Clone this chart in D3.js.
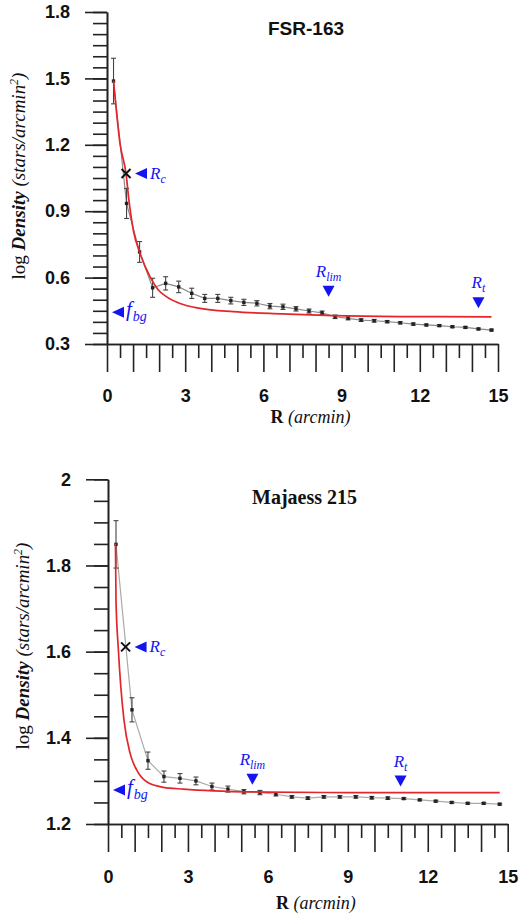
<!DOCTYPE html>
<html lang="en">
<head>
  <meta charset="UTF-8">
  <title>Radial density profiles</title>
  <script src="https://cdn.jsdelivr.net/npm/d3@7"></script>
  <style>
    body { margin: 0; background: #fff; }
  </style>
</head>
<body>

  <svg id="svg" width="520" height="920"></svg>

  <script>
    // ---- FSR-163 ----
    const fsrR = [0.25, 0.75, 1.25, 1.75, 2.25, 2.75, 3.25, 3.75, 4.25, 4.75, 5.25, 5.75, 6.25, 6.75, 7.25,
                  7.75, 8.25, 8.75, 9.25, 9.75, 10.25, 10.75, 11.25, 11.75, 12.25, 12.75, 13.25, 13.75, 14.25, 14.75]
    const fsrLogD = [1.488, 0.935, 0.716, 0.554, 0.574, 0.558, 0.529, 0.506, 0.506, 0.496, 0.488, 0.484, 0.471, 0.468, 0.459,
                     0.449, 0.441, 0.423, 0.416, 0.408, 0.405, 0.401, 0.396, 0.390, 0.386, 0.383, 0.378, 0.375, 0.368, 0.363]
    const fsrErr = [0.103, 0.068, 0.047, 0.043, 0.030, 0.026, 0.023, 0.018, 0.018, 0.015, 0.014, 0.012, 0.012, 0.012, 0.010,
                    0.009, 0.008, 0.008, 0.007, 0.006, 0.006, 0.005, 0.005, 0.005, 0.004, 0.004, 0.004, 0.004, 0.004, 0.004]
    // King profile fit
    const fsrFitR = [0.25, 0.5, 0.73, 0.855, 1.01, 1.27, 1.65, 1.97, 2.29, 2.8, 3.57, 4.85, 6.76, 8.68, 11.2, 14.75]
    const fsrFitD = [1.49, 1.205, 1.07, 0.935, 0.814, 0.709, 0.604, 0.544, 0.513, 0.483, 0.461, 0.446, 0.436, 0.428, 0.424, 0.423]
    const fsrYTicks = [0.3, 0.6, 0.9, 1.2, 1.5, 1.8]
    // marker positions: [R, logD]
    const fsrRc = [0.73, 1.07]
    const fsrFbg = 0.443
    const fsrRlim = [8.5, 0.513]
    const fsrRt = [14.25, 0.461]

    // ---- Majaess 215 ----
    const majR = [0.3, 0.9, 1.5, 2.1, 2.7, 3.3, 3.9, 4.5, 5.1, 5.7, 6.3, 6.9, 7.5, 8.1, 8.7,
                  9.3, 9.9, 10.5, 11.1, 11.7, 12.3, 12.9, 13.5, 14.1, 14.7]
    const majLogD = [1.849, 1.465, 1.347, 1.310, 1.306, 1.300, 1.287, 1.281, 1.275, 1.273, 1.269, 1.263, 1.260, 1.263, 1.263,
                     1.263, 1.261, 1.260, 1.259, 1.256, 1.253, 1.250, 1.248, 1.248, 1.246]
    const majErr = [0.055, 0.028, 0.020, 0.013, 0.011, 0.009, 0.008, 0.007, 0.005, 0.005, 0.004, 0.003, 0.003, 0.003, 0.003,
                    0.003, 0.003, 0.003, 0.002, 0.002, 0.002, 0.002, 0.002, 0.002, 0.002]
    const majFitR = [0.28, 0.3, 0.39, 0.48, 0.6, 0.83, 1.08, 1.45, 2.08, 2.83, 3.95, 6.0, 9.0, 14.7]
    const majFitD = [1.851, 1.72, 1.604, 1.519, 1.441, 1.364, 1.325, 1.298, 1.285, 1.281, 1.277, 1.274, 1.273, 1.273]
    const majYTicks = [1.2, 1.4, 1.6, 1.8, 2]
    const majRc = [0.66, 1.611]
    const majFbg = 1.279
    const majRlim = [5.42, 1.291]
    const majRt = [10.98, 1.287]

    const xTicks = [0, 3, 6, 9, 12, 15]

    const blue = '#1414f0'
    const svg = d3.select('#svg')

    const panels = [
      {
        title: 'FSR-163', titleFont: '"Liberation Sans", Arial, sans-serif', titleSize: 19, titleX: 268, titleY: 35,
        xRange: [107, 498], yRange: [344, 12], yDomain: [0.3, 1.8], yTicks: fsrYTicks,
        R: fsrR, D: fsrLogD, E: fsrErr, fitR: fsrFitR, fitD: fsrFitD,
        rc: fsrRc, fbg: fsrFbg, rlim: fsrRlim, rt: fsrRt,
        lineColor: '#8a8a8a', yTitleX: 25, yTitleY: 176, xTitleY: 423, xPad: 17
      },
      {
        title: 'Majaess 215', titleFont: '"Liberation Serif", "Times New Roman", serif', titleSize: 20, titleX: 252, titleY: 504,
        xRange: [108, 507.7], yRange: [824, 479.3], yDomain: [1.2, 2.0], yTicks: majYTicks,
        R: majR, D: majLogD, E: majErr, fitR: majFitR, fitD: majFitD,
        rc: majRc, fbg: majFbg, rlim: majRlim, rt: majRt,
        lineColor: '#ababab', yTitleX: 29, yTitleY: 646, xTitleY: 909, xPad: 18
      }
    ]

    panels.forEach(drawPanel)

    function drawPanel(p) {
      const x = d3.scaleLinear().domain([0, 15]).range(p.xRange)
      const y = d3.scaleLinear().domain(p.yDomain).range(p.yRange)
      const g = svg.append('g')

      // minor ticks first, then the labelled ones
      const yMinor = d3.ticks(p.yDomain[0], p.yDomain[1], Math.round((p.yDomain[1] - p.yDomain[0]) / 0.05))
      g.append('g')
        .attr('class', 'axis')
        .attr('transform', `translate(${p.xRange[0]},0)`)
        .call(d3.axisLeft(y).tickValues(yMinor).tickSize(14).tickSizeOuter(0).tickFormat(''))
      g.append('g')
        .attr('class', 'axis lbl')
        .attr('transform', `translate(${p.xRange[0]},0)`)
        .call(d3.axisLeft(y).tickValues(p.yTicks).tickSize(22).tickSizeOuter(0).tickPadding(15)
          .tickFormat(d => d === 2 ? '2' : d.toFixed(1)))

      g.append('g')
        .attr('class', 'axis')
        .attr('transform', `translate(0,${p.yRange[0]})`)
        .call(d3.axisBottom(x).tickValues(d3.range(0.5, 15, 1)).tickSize(14).tickSizeOuter(0).tickFormat(''))
      g.append('g')
        .attr('class', 'axis lbl')
        .attr('transform', `translate(0,${p.yRange[0]})`)
        .call(d3.axisBottom(x).tickValues(d3.range(0, 16)).tickSize(28).tickSizeOuter(0).tickPadding(p.xPad)
          .tickFormat(d => xTicks.includes(d) ? d : ''))

      g.selectAll('.axis path, .axis line').attr('stroke', '#222').attr('stroke-width', 1.6)
      g.selectAll('.lbl text')
        .attr('font-family', '"Liberation Sans", Arial, sans-serif')
        .attr('font-weight', 'bold')
        .attr('font-size', 18)
        .attr('fill', '#111')

      // title
      g.append('text')
        .attr('x', p.titleX).attr('y', p.titleY)
        .attr('font-family', p.titleFont)
        .attr('font-weight', 'bold')
        .attr('font-size', p.titleSize)
        .attr('fill', '#111')
        .text(p.title)

      // axis titles
      const xt = g.append('text')
        .attr('x', (p.xRange[0] + p.xRange[1]) / 2 + 8).attr('y', p.xTitleY)
        .attr('text-anchor', 'middle')
        .attr('font-family', '"Liberation Serif", "Times New Roman", serif')
        .attr('font-size', 18).attr('fill', '#111')
      xt.append('tspan').attr('font-weight', 'bold').text('R')
      xt.append('tspan').attr('font-style', 'italic').text(' (arcmin)')

      const yt = g.append('text')
        .attr('transform', `translate(${p.yTitleX},${p.yTitleY}) rotate(-90)`)
        .attr('text-anchor', 'middle')
        .attr('font-family', '"Liberation Serif", "Times New Roman", serif')
        .attr('font-size', 19).attr('fill', '#111')
      yt.append('tspan').text('log ')
      yt.append('tspan').attr('font-weight', 'bold').attr('font-style', 'italic').text('Density')
      yt.append('tspan').attr('font-style', 'italic').text(' (stars/arcmin')
      yt.append('tspan').attr('font-style', 'italic').attr('font-size', 12).attr('dy', -7).text('2')
      yt.append('tspan').attr('font-style', 'italic').attr('dy', 7).text(')')

      // observed profile
      const pts = p.R.map((r, i) => ({ r, d: p.D[i], e: p.E[i] }))
      g.append('path')
        .datum(pts)
        .attr('fill', 'none')
        .attr('stroke', p.lineColor)
        .attr('stroke-width', 1.2)
        .attr('d', d3.line().x(d => x(d.r)).y(d => y(d.d)))

      const eb = g.append('g').attr('stroke', '#444').attr('stroke-width', 1.1)
      pts.forEach(d => {
        const x0 = x(d.r), y1 = y(d.d + d.e), y2 = y(d.d - d.e)
        eb.append('line').attr('x1', x0).attr('x2', x0).attr('y1', y1).attr('y2', y2)
        eb.append('line').attr('x1', x0 - 2.5).attr('x2', x0 + 2.5).attr('y1', y1).attr('y2', y1)
        eb.append('line').attr('x1', x0 - 2.5).attr('x2', x0 + 2.5).attr('y1', y2).attr('y2', y2)
      })
      g.append('g').selectAll('rect')
        .data(pts)
        .enter()
        .append('rect')
        .attr('x', d => x(d.r) - 1.7)
        .attr('y', d => y(d.d) - 1.7)
        .attr('width', 3.4).attr('height', 3.4)
        .attr('fill', '#222')

      // fitted curve
      const fit = p.fitR.map((r, i) => [r, p.fitD[i]])
      g.append('path')
        .datum(fit)
        .attr('fill', 'none')
        .attr('stroke', '#e3262b')
        .attr('stroke-width', 1.7)
        .attr('d', d3.line().curve(d3.curveMonotoneX).x(d => x(d[0])).y(d => y(d[1])))

      // core radius cross
      const cx = x(p.rc[0]), cy = y(p.rc[1])
      g.append('path')
        .attr('d', `M${cx - 4.5},${cy - 4.5}L${cx + 4.5},${cy + 4.5}M${cx + 4.5},${cy - 4.5}L${cx - 4.5},${cy + 4.5}`)
        .attr('stroke', '#111').attr('stroke-width', 2)

      // left-pointing markers
      const leftTri = (tx, ty) => `M${tx},${ty}L${tx + 12},${ty - 5.5}L${tx + 12},${ty + 5.5}Z`
      g.append('path').attr('d', leftTri(cx + 9, cy)).attr('fill', blue)
      const fy = y(p.fbg)
      g.append('path').attr('d', leftTri(p.xRange[0] + 5, fy)).attr('fill', blue)

      label(g, cx + 24, cy + 5, 'R', 'c', 'start', 17)
      const fl = g.append('text')
        .attr('x', p.xRange[0] + 19).attr('y', fy + 4)
        .attr('font-family', '"Liberation Serif", "Times New Roman", serif')
        .attr('font-style', 'italic').attr('fill', blue)
      fl.append('tspan').attr('font-size', 21).text('f')
      fl.append('tspan').attr('font-size', 14).attr('dy', 5).attr('dx', 1).text('bg')

      // down-pointing markers for R_lim and R_t
      ;[[p.rlim, 'lim'], [p.rt, 't']].forEach(([m, sub]) => {
        const tx = x(m[0]), ty = y(m[1])
        g.append('path')
          .attr('d', `M${tx},${ty}L${tx - 6},${ty - 11}L${tx + 6},${ty - 11}Z`)
          .attr('fill', blue)
        label(g, tx, ty - 20, 'R', sub, 'middle', 17)
      })
    }

    function label(g, lx, ly, main, sub, anchor, size) {
      const t = g.append('text')
        .attr('x', lx).attr('y', ly)
        .attr('text-anchor', anchor)
        .attr('font-family', '"Liberation Serif", "Times New Roman", serif')
        .attr('font-style', 'italic').attr('fill', blue)
      t.append('tspan').attr('font-size', size).text(main)
      t.append('tspan').attr('font-size', size * 0.7).attr('dy', 4).text(sub)
    }
  </script>
</body>
</html>
